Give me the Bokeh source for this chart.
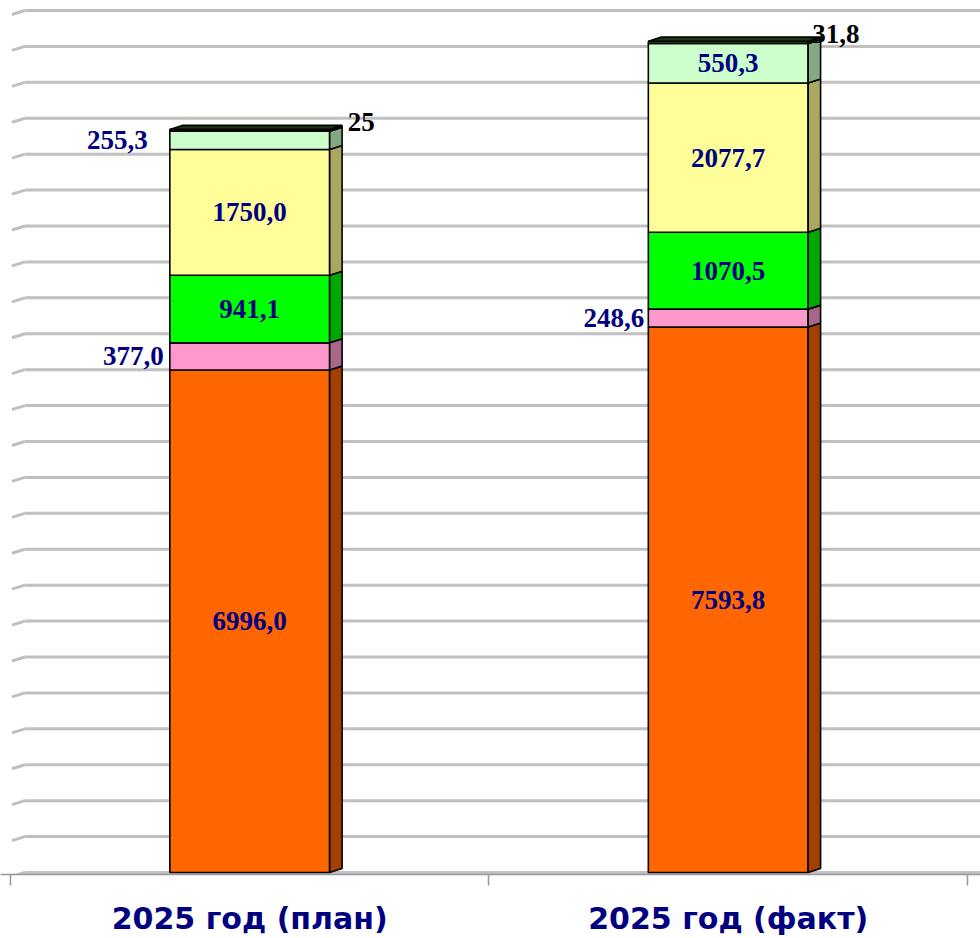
import numpy as np
from bokeh.plotting import figure
from bokeh.models import Range1d, FixedTicker, ColumnDataSource
from bokeh.embed import file_html
from bokeh.resources import INLINE
from bokeh.core.properties import value

# ---- data ----
categories = ["2025 год (план)", "2025 год (факт)"]
orange_vals = [6996.0, 7593.8]
pink_vals = [377.0, 248.6]
green_vals = [941.1, 1070.5]
yellow_vals = [1750.0, 2077.7]
mint_vals = [255.3, 550.3]
dark_vals = [25.0, 31.8]

orange_labels = ["6996,0", "7593,8"]
pink_labels = ["377,0", "248,6"]
green_labels = ["941,1", "1070,5"]
yellow_labels = ["1750,0", "2077,7"]
mint_labels = ["255,3", "550,3"]
dark_labels = ["25", "31,8"]

grid_values = list(range(0, 12001, 500))

# ---- styles ----
series = [orange_vals, pink_vals, green_vals, yellow_vals, mint_vals, dark_vals]
labels = [orange_labels, pink_labels, green_labels, yellow_labels, mint_labels, dark_labels]
front_colors = ["#FF6600", "#FF99CC", "#00FF00", "#FFFF99", "#CCFFCC", "#2A5218"]
side_colors = ["#A34000", "#A8668A", "#00A800", "#A8A860", "#84A884", "#1C3A10"]
label_colors = ["#000080", "#000080", "#000080", "#000080", "#000080", "#000000"]
# placement per series per bar: "in", "left", "top"
placement = [["in", "in"], ["left", "left"], ["in", "in"], ["in", "in"], ["left", "in"], ["top", "top"]]
left_gap = [[0, 0], [6, 4], [0, 0], [0, 0], [22, 0], [0, 0]]
top_dx = [18, 4]

bar_w = 0.334
depth_x = 0.026
depth_y = 56.0

centers = [i + 0.5 for i in range(len(categories))]

p = figure(width=980, height=938,
           x_range=Range1d(-0.0209, 2.0272), y_range=Range1d(-28, 12139),
           output_backend="svg", toolbar_location=None,
           min_border_left=0, min_border_right=0, min_border_top=0, min_border_bottom=64,
           y_axis_location=None)
p.outline_line_color = None
p.xgrid.visible = False
p.ygrid.visible = False
p.background_fill_color = "white"
p.border_fill_color = "white"

# gridlines with slanted stub at left (3D wall)
gx0, gx1 = [], []
gy0, gy1 = [], []
for g in grid_values:
    gx0.append(0.030); gy0.append(g); gx1.append(2.06); gy1.append(g)
    gx0.append(0.003); gy0.append(g - depth_y); gx1.append(0.030); gy1.append(g)
p.segment(x0=gx0, y0=gy0, x1=gx1, y1=gy1, line_color="#C0C0C0", line_width=3)

# bars
for bi, c in enumerate(centers):
    xl = c - bar_w / 2
    xr = c + bar_w / 2
    base = 0.0
    for si, vals in enumerate(series):
        v = vals[bi]
        top = base + v
        p.quad(left=[xl], right=[xr], bottom=[base], top=[top],
               fill_color=front_colors[si], line_color="black", line_width=1.6)
        p.patch(x=[xr, xr + depth_x, xr + depth_x, xr],
                y=[base, base + depth_y, top + depth_y, top],
                fill_color=side_colors[si], line_color="black", line_width=1.6)
        base = top
    # top face
    p.patch(x=[xl, xl + depth_x, xr + depth_x, xr],
            y=[base, base + depth_y, base + depth_y, base],
            fill_color=side_colors[-1], line_color="black", line_width=1.6)

# labels
groups = {"center": dict(x=[], y=[], t=[], c=[], xo=[], yo=[]),
          "right": dict(x=[], y=[], t=[], c=[], xo=[], yo=[]),
          "left": dict(x=[], y=[], t=[], c=[], xo=[], yo=[])}
for bi, c in enumerate(centers):
    base = 0.0
    for si, vals in enumerate(series):
        v = vals[bi]
        mid = base + v / 2
        top = base + v
        mode = placement[si][bi]
        if mode == "in":
            g = groups["center"]; g["x"].append(c); g["y"].append(mid); g["xo"].append(0); g["yo"].append(0)
        elif mode == "left":
            g = groups["right"]; g["x"].append(c - bar_w / 2); g["y"].append(mid)
            g["xo"].append(-left_gap[si][bi]); g["yo"].append(0)
        else:
            g = groups["left"]; g["x"].append(c + bar_w / 2); g["y"].append(top)
            g["xo"].append(top_dx[bi]); g["yo"].append(-7)
        g["t"].append(labels[si][bi]); g["c"].append(label_colors[si])
        base = top

for align, g in groups.items():
    src = ColumnDataSource(data=g)
    p.text(x="x", y="y", text="t", text_color="c", x_offset="xo", y_offset="yo", source=src,
           text_align=align, text_baseline="middle",
           text_font=value("Liberation Serif"), text_font_style="bold", text_font_size="27px")

# category axis
ax = p.xaxis[0]
ax.ticker = FixedTicker(ticks=centers, minor_ticks=[0, 1, 2])
ax.major_label_overrides = {c: cat for c, cat in zip(centers, categories)}
ax.major_tick_line_color = None
ax.major_tick_out = 0
ax.major_tick_in = 0
ax.minor_tick_out = 11
ax.minor_tick_in = 0
ax.minor_tick_line_color = "#999999"
ax.minor_tick_line_width = 1.5
ax.axis_line_color = "#999999"
ax.axis_line_width = 1.5
ax.major_label_standoff = 15
ax.major_label_text_font = "DejaVu Sans"
ax.major_label_text_font_style = "bold"
ax.major_label_text_font_size = "30px"
ax.major_label_text_color = "#000080"

open("out.html", "w").write(file_html(p, INLINE))
